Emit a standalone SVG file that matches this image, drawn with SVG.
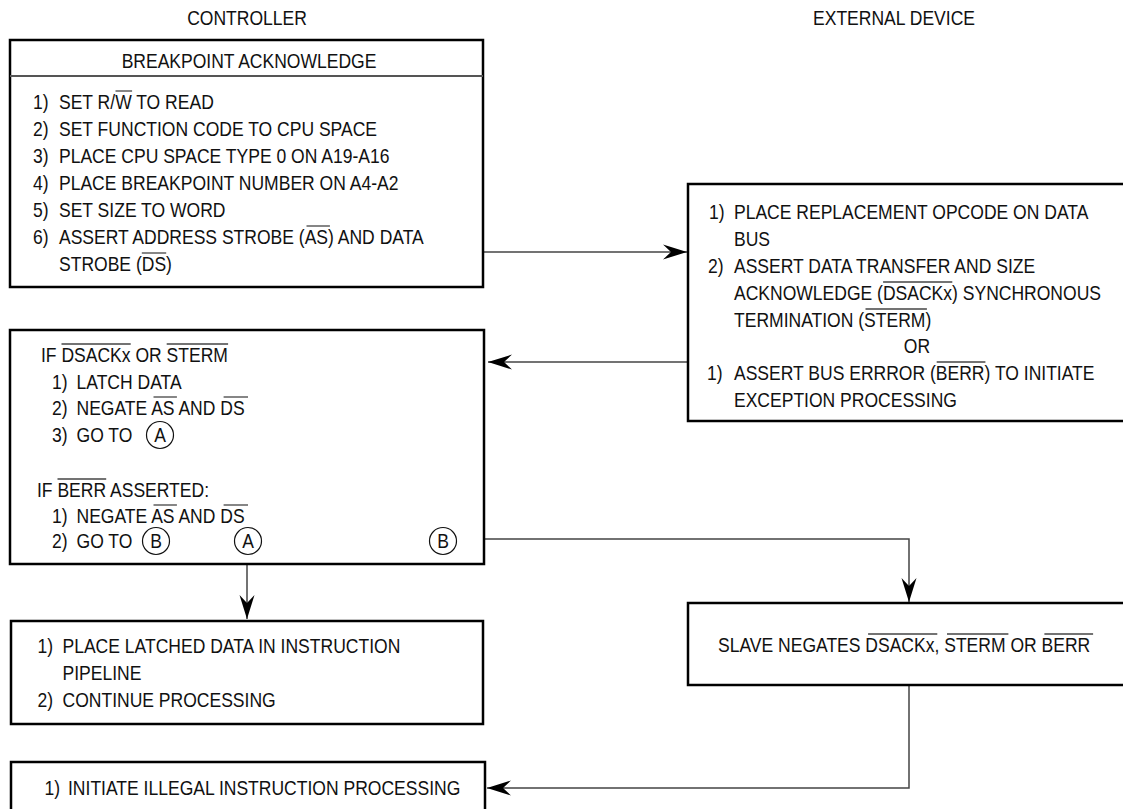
<svg xmlns="http://www.w3.org/2000/svg" width="1123" height="809" viewBox="0 0 1123 809">
<style>
.t{font-family:"Liberation Sans",Arial,sans-serif;font-size:21px;fill:#111}
.c{text-anchor:middle}
.ov{stroke:#444;stroke-width:1.3}
.box{fill:#fff;stroke:#000;stroke-width:2.5}
.div{stroke:#555;stroke-width:2}
.ln{fill:none;stroke:#444;stroke-width:1.5}
.circ{fill:none;stroke:#111;stroke-width:1.2}
</style>
<defs>
<marker id="ah" viewBox="-25 -9 26 18" refX="0" refY="0" markerWidth="26" markerHeight="18" markerUnits="userSpaceOnUse" orient="auto">
<path d="M0,0 L-24,-7.5 L-16,0 L-24,7.5 Z" fill="#000"/>
</marker>
</defs>
<rect width="1123" height="809" fill="#fff"/>

<g id="headers">
<text class="t c" transform="translate(247,25) scale(0.835,1)">CONTROLLER</text>
<text class="t c" transform="translate(894,25) scale(0.835,1)">EXTERNAL DEVICE</text>
</g>

<g id="connectors">
<path class="ln" d="M483,252 H687" marker-end="url(#ah)"/>
<path class="ln" d="M688,362 H488" marker-end="url(#ah)"/>
<path class="ln" d="M247,564 V619" marker-end="url(#ah)"/>
<path class="ln" d="M485,539 H909 V602" marker-end="url(#ah)"/>
<path class="ln" d="M909,685 V788 H487" marker-end="url(#ah)"/>
</g>

<g id="breakpoint-ack">
<rect class="box" x="10" y="40" width="473" height="247"/>
<line class="div" x1="10" y1="76" x2="483" y2="76"/>
<text class="t c" transform="translate(249,68) scale(0.835,1)">BREAKPOINT ACKNOWLEDGE</text>
<text class="t" transform="translate(33,109) scale(0.835,1)">1)</text>
<text class="t" transform="translate(59,109) scale(0.835,1)">SET R/W TO READ</text>
<line class="ov" x1="115.5" y1="91" x2="132.1" y2="91"/>
<text class="t" transform="translate(33,136) scale(0.835,1)">2)</text>
<text class="t" transform="translate(59,136) scale(0.835,1)">SET FUNCTION CODE TO CPU SPACE</text>
<text class="t" transform="translate(33,163) scale(0.835,1)">3)</text>
<text class="t" transform="translate(59,163) scale(0.835,1)">PLACE CPU SPACE TYPE 0 ON A19-A16</text>
<text class="t" transform="translate(33,190) scale(0.835,1)">4)</text>
<text class="t" transform="translate(59,190) scale(0.835,1)">PLACE BREAKPOINT NUMBER ON A4-A2</text>
<text class="t" transform="translate(33,217) scale(0.835,1)">5)</text>
<text class="t" transform="translate(59,217) scale(0.835,1)">SET SIZE TO WORD</text>
<text class="t" transform="translate(33,244) scale(0.835,1)">6)</text>
<text class="t" transform="translate(59,244) scale(0.835,1)">ASSERT ADDRESS STROBE (AS) AND DATA</text>
<line class="ov" x1="306.5" y1="226" x2="329.9" y2="226"/>
<text class="t" transform="translate(59,271) scale(0.835,1)">STROBE (DS)</text>
<line class="ov" x1="141.8" y1="253" x2="166.2" y2="253"/>
</g>

<g id="external-response">
<rect class="box" x="688" y="184" width="440" height="237"/>
<text class="t" transform="translate(709,219) scale(0.835,1)">1)</text>
<text class="t" transform="translate(734,219) scale(0.835,1)">PLACE REPLACEMENT OPCODE ON DATA</text>
<text class="t" transform="translate(734,246) scale(0.835,1)">BUS</text>
<text class="t" transform="translate(708,273) scale(0.835,1)">2)</text>
<text class="t" transform="translate(734,273) scale(0.835,1)">ASSERT DATA TRANSFER AND SIZE</text>
<text class="t" transform="translate(734,300) scale(0.835,1)">ACKNOWLEDGE (DSACKx) SYNCHRONOUS</text>
<line class="ov" x1="883.1" y1="282" x2="952.3" y2="282"/>
<text class="t" transform="translate(734,327) scale(0.835,1)">TERMINATION (STERM)</text>
<line class="ov" x1="865.5" y1="309" x2="926.9" y2="309"/>
<text class="t c" transform="translate(917,353) scale(0.835,1)">OR</text>
<text class="t" transform="translate(707,380) scale(0.835,1)">1)</text>
<text class="t" transform="translate(734,380) scale(0.835,1)">ASSERT BUS ERRROR (BERR) TO INITIATE</text>
<line class="ov" x1="936.7" y1="362" x2="985.4" y2="362"/>
<text class="t" transform="translate(734,407) scale(0.835,1)">EXCEPTION PROCESSING</text>
</g>

<g id="controller-decision">
<rect class="box" x="10" y="330" width="474" height="234"/>
<text class="t" transform="translate(41,362) scale(0.835,1)">IF DSACKx OR STERM</text>
<line class="ov" x1="61.5" y1="344" x2="130.7" y2="344"/>
<line class="ov" x1="166.7" y1="344" x2="228.1" y2="344"/>
<text class="t" transform="translate(52,389) scale(0.835,1)">1)</text>
<text class="t" transform="translate(76.5,389) scale(0.835,1)">LATCH DATA</text>
<text class="t" transform="translate(52,415) scale(0.835,1)">2)</text>
<text class="t" transform="translate(76.5,415) scale(0.835,1)">NEGATE AS AND DS</text>
<line class="ov" x1="153.5" y1="397" x2="176.9" y2="397"/>
<line class="ov" x1="223.6" y1="397" x2="248" y2="397"/>
<text class="t" transform="translate(52,442) scale(0.835,1)">3)</text>
<text class="t" transform="translate(76.5,442) scale(0.835,1)">GO TO</text>
<circle class="circ" cx="160" cy="435" r="13.5"/>
<text class="t c" transform="translate(160,442) scale(0.835,1)">A</text>
<text class="t" transform="translate(37,497) scale(0.835,1)">IF BERR ASSERTED:</text>
<line class="ov" x1="57.5" y1="479" x2="106.2" y2="479"/>
<text class="t" transform="translate(52,523) scale(0.835,1)">1)</text>
<text class="t" transform="translate(76.5,523) scale(0.835,1)">NEGATE AS AND DS</text>
<line class="ov" x1="153.5" y1="505" x2="176.9" y2="505"/>
<line class="ov" x1="223.6" y1="505" x2="248" y2="505"/>
<text class="t" transform="translate(52,548) scale(0.835,1)">2)</text>
<text class="t" transform="translate(76.5,548) scale(0.835,1)">GO TO</text>
<circle class="circ" cx="156" cy="541" r="13.5"/>
<text class="t c" transform="translate(156,548) scale(0.835,1)">B</text>
<circle class="circ" cx="248" cy="541" r="13.5"/>
<text class="t c" transform="translate(248,548) scale(0.835,1)">A</text>
<circle class="circ" cx="443" cy="541" r="13.5"/>
<text class="t c" transform="translate(443,548) scale(0.835,1)">B</text>
</g>

<g id="continue-processing">
<rect class="box" x="11" y="621" width="472" height="103"/>
<text class="t" transform="translate(37.5,653) scale(0.835,1)">1)</text>
<text class="t" transform="translate(62.5,653) scale(0.835,1)">PLACE LATCHED DATA IN INSTRUCTION</text>
<text class="t" transform="translate(62.5,680) scale(0.835,1)">PIPELINE</text>
<text class="t" transform="translate(37.5,707) scale(0.835,1)">2)</text>
<text class="t" transform="translate(62.5,707) scale(0.835,1)">CONTINUE PROCESSING</text>
</g>

<g id="slave-negates">
<rect class="box" x="688" y="603" width="440" height="82"/>
<text class="t" transform="translate(718,652) scale(0.835,1)">SLAVE NEGATES DSACKx, STERM OR BERR</text>
<line class="ov" x1="868.1" y1="634" x2="937.3" y2="634"/>
<line class="ov" x1="947" y1="634" x2="1008.4" y2="634"/>
<line class="ov" x1="1044.4" y1="634" x2="1093.1" y2="634"/>
</g>

<g id="illegal-instruction">
<rect class="box" x="11" y="762" width="474" height="60"/>
<text class="t" transform="translate(44.6,795) scale(0.835,1)">1)</text>
<text class="t" transform="translate(68,795) scale(0.835,1)">INITIATE ILLEGAL INSTRUCTION PROCESSING</text>
</g>
</svg>
